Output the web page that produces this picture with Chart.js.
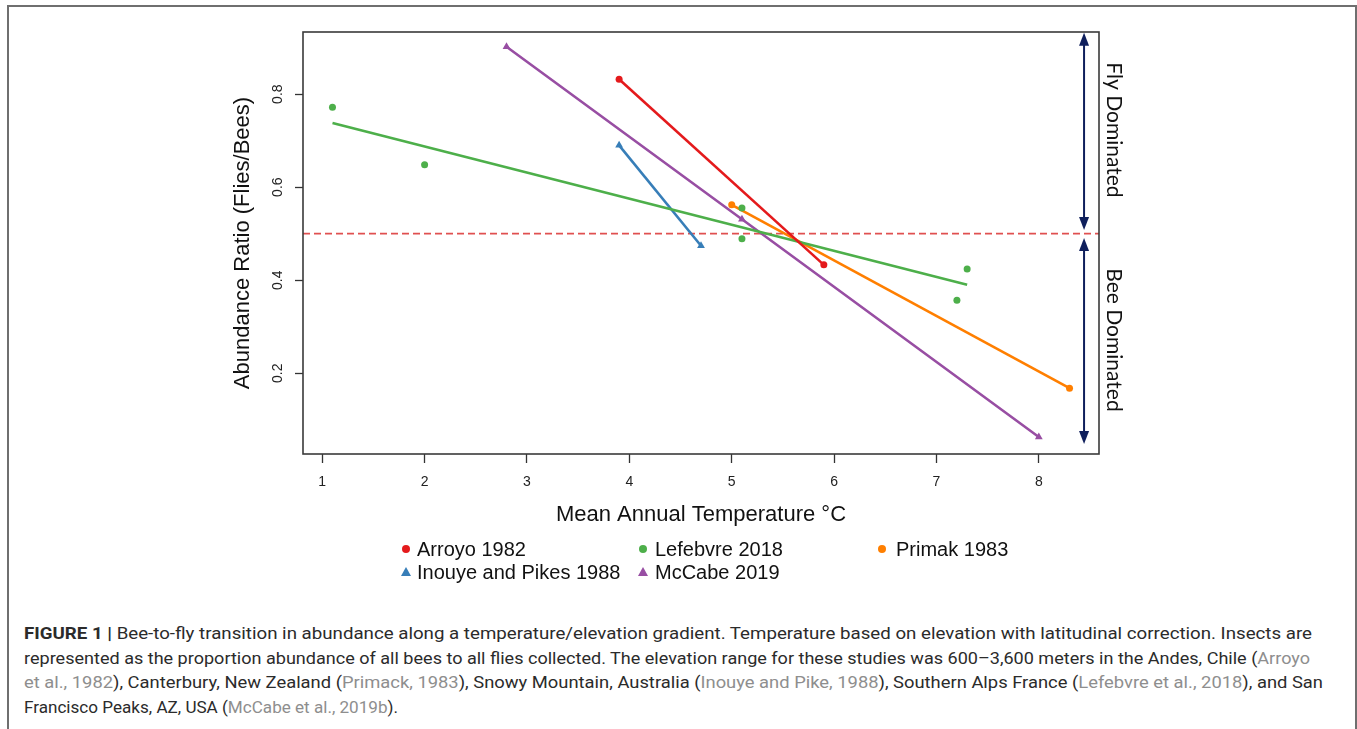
<!DOCTYPE html>
<html>
<head>
<meta charset="utf-8">
<script src="https://cdn.jsdelivr.net/npm/chart.js@4.4.1/dist/chart.umd.min.js"></script>
<style>
  html, body { margin: 0; padding: 0; background: #fff; }
  body { width: 1357px; height: 729px; position: relative; overflow: hidden; font-family: "Liberation Sans", Arial, sans-serif; }
  #marco { position: absolute; left: 7px; top: 5px; width: 1346px; height: 760px; border: 2px solid #6f6f6f; border-bottom: none; }
  #contenedor { position: absolute; left: 0; top: 0; width: 1357px; height: 600px; }
  .item { position: absolute; font-size: 20px; line-height: 22px; color: #111; white-space: nowrap; }
  .marca { position: absolute; }
  #caption { position: absolute; left: 24px; top: 621px; font-family: Roboto, "Liberation Sans", sans-serif; font-size: 17px; line-height: 24.7px; color: #2b2b2b; }
  .linea { display: block; width: max-content; white-space: nowrap; transform-origin: left center; }
  .ref { color: #8e8e8e; }
</style>
</head>
<body>
<div id="marco"></div>
<div id="contenedor"><canvas id="grafico"></canvas></div>
<div id="leyenda"></div>
<div id="caption">
  <span class="linea" data-w="1288"><b>FIGURE 1 |</b> Bee-to-fly transition in abundance along a temperature/elevation gradient. Temperature based on elevation with latitudinal correction. Insects are</span>
  <span class="linea" data-w="1286">represented as the proportion abundance of all bees to all flies collected. The elevation range for these studies was 600–3,600 meters in the Andes, Chile (<span class="ref">Arroyo</span></span>
  <span class="linea" data-w="1299"><span class="ref">et al., 1982</span>), Canterbury, New Zealand (<span class="ref">Primack, 1983</span>), Snowy Mountain, Australia (<span class="ref">Inouye and Pike, 1988</span>), Southern Alps France (<span class="ref">Lefebvre et al., 2018</span>), and San</span>
  <span class="linea" data-w="374">Francisco Peaks, AZ, USA (<span class="ref">McCabe et al., 2019b</span>).</span>
</div>
<script>
// Datos
const estudios = ["Arroyo 1982", "Lefebvre 2018", "Primak 1983", "Inouye and Pikes 1988", "McCabe 2019"];

const arroyoX = [3.9, 5.9];
const arroyoY = [0.832, 0.433];

const lefebvreX = [1.1, 2.0, 5.1, 5.1, 7.2, 7.3];
const lefebvreY = [0.772, 0.648, 0.555, 0.489, 0.357, 0.424];
// recta ajustada de Lefebvre (extremos leídos)
const lefebvreAjusteX = [1.1, 7.3];
const lefebvreAjusteY = [0.738, 0.39];

const primakX = [5.0, 8.3];
const primakY = [0.562, 0.168];

const inouyeX = [3.9, 4.7];
const inouyeY = [0.69, 0.474];

const mccabeX = [2.8, 5.1, 8.0];
const mccabeY = [0.902, 0.531, 0.063];

const umbral = 0.5;

const xTicks = [1, 2, 3, 4, 5, 6, 7, 8];
const yTicks = [0.2, 0.4, 0.6, 0.8];
const yTickLabels = ["0.2", "0.4", "0.6", "0.8"];

// colores (Set1)
const rojo = "#e41a1c";
const verde = "#4daf4a";
const naranjo = "#ff7f00";
const azul = "#377eb8";
const morado = "#984ea3";
const colores = [rojo, verde, naranjo, azul, morado];
const formas = ["circle", "circle", "circle", "triangle", "triangle"];
const azulFlecha = "#0f1f5c";

const xMin = 0.812, xMax = 8.588, yMin = 0.0264, yMax = 0.9336;

function puntos(xs, ys) {
  return xs.map((x, i) => ({ x: x, y: ys[i] }));
}

function serie(datos, color, forma, conLinea, radio) {
  return {
    data: datos,
    showLine: conLinea,
    borderColor: color,
    backgroundColor: color,
    borderWidth: 2.6,
    pointStyle: forma,
    pointRadius: radio,
    pointBorderWidth: 0,
    pointHoverRadius: radio,
  };
}

// Flechas, textos, caja y títulos de ejes
const anotaciones = {
  id: "anotaciones",
  afterDatasetsDraw(chart) {
    const { ctx, chartArea: a, scales } = chart;
    const x = scales.x, y = scales.y;
    ctx.save();
    // caja
    ctx.strokeStyle = "#3a3a3a";
    ctx.lineWidth = 1.6;
    ctx.strokeRect(a.left, a.top, a.right - a.left, a.bottom - a.top);

    // flechas dobles
    const fx = x.getPixelForValue(8.442);
    [[0.932, 0.508], [0.491, 0.048]].forEach((f) => {
      const y1 = y.getPixelForValue(f[0]);
      const y2 = y.getPixelForValue(f[1]);
      ctx.strokeStyle = azulFlecha;
      ctx.fillStyle = azulFlecha;
      ctx.lineWidth = 2;
      ctx.beginPath();
      ctx.moveTo(fx, y1 + 8);
      ctx.lineTo(fx, y2 - 8);
      ctx.stroke();
      ctx.beginPath();
      ctx.moveTo(fx, y1);
      ctx.lineTo(fx - 5, y1 + 13);
      ctx.lineTo(fx + 5, y1 + 13);
      ctx.closePath();
      ctx.fill();
      ctx.beginPath();
      ctx.moveTo(fx, y2);
      ctx.lineTo(fx - 5, y2 - 13);
      ctx.lineTo(fx + 5, y2 - 13);
      ctx.closePath();
      ctx.fill();
    });

    // textos a la derecha
    ctx.fillStyle = "#111";
    ctx.font = "21px Lato, 'Open Sans', sans-serif";
    ctx.textAlign = "center";
    ctx.textBaseline = "middle";
    [["Fly Dominated", 0.723], ["Bee Dominated", 0.2715]].forEach((t) => {
      ctx.save();
      ctx.translate(a.right + 15, y.getPixelForValue(t[1]));
      ctx.rotate(Math.PI / 2);
      ctx.fillText(t[0], 0, 0);
      ctx.restore();
    });

    // etiquetas del eje y (verticales, como en R)
    ctx.font = "14px 'Liberation Sans', Arial, sans-serif";
    ctx.fillStyle = "#222";
    yTicks.forEach((v, i) => {
      ctx.save();
      ctx.translate(a.left - 25, y.getPixelForValue(v));
      ctx.rotate(-Math.PI / 2);
      ctx.fillText(yTickLabels[i], 0, 0);
      ctx.restore();
    });

    // títulos de ejes
    ctx.font = "22px 'Liberation Sans', Arial, sans-serif";
    ctx.fillStyle = "#111";
    ctx.fillText("Mean Annual Temperature °C", (a.left + a.right) / 2, a.bottom + 61);
    ctx.save();
    ctx.translate(a.left - 60, (a.top + a.bottom) / 2);
    ctx.rotate(-Math.PI / 2);
    ctx.fillText("Abundance Ratio (Flies/Bees)", 0, 0);
    ctx.restore();

    ctx.restore();
  },
};

new Chart(document.getElementById("grafico"), {
  type: "scatter",
  data: {
    datasets: [
      serie(puntos(arroyoX, arroyoY), rojo, "circle", true, 3.5),
      serie(puntos(lefebvreX, lefebvreY), verde, "circle", false, 3.5),
      serie(puntos(lefebvreAjusteX, lefebvreAjusteY), verde, "circle", true, 0),
      serie(puntos(primakX, primakY), naranjo, "circle", true, 3.5),
      serie(puntos(inouyeX, inouyeY), azul, "triangle", true, 4.5),
      serie(puntos(mccabeX, mccabeY), morado, "triangle", true, 4.5),
      {
        data: puntos([xMin, xMax], [umbral, umbral]),
        showLine: true,
        borderColor: "#e05050",
        borderWidth: 1.8,
        borderDash: [7, 4],
        pointRadius: 0,
      },
    ],
  },
  options: {
    responsive: true,
    maintainAspectRatio: false,
    animation: false,
    events: [],
    layout: {
      autoPadding: false,
      padding: { left: 0, top: 32, right: 258, bottom: 106 },
    },
    plugins: {
      legend: { display: false },
      tooltip: { enabled: false },
    },
    scales: {
      x: {
        type: "linear",
        min: xMin,
        max: xMax,
        afterBuildTicks: (s) => { s.ticks = xTicks.map((v) => ({ value: v })); },
        afterFit: (s) => { s.height = 40; },
        border: { display: false },
        grid: { drawOnChartArea: false, drawTicks: true, tickLength: 9, tickColor: "#333", tickWidth: 1.3 },
        ticks: {
          color: "#222",
          padding: 11,
          font: { size: 14, family: "'Liberation Sans', Arial, sans-serif" },
          callback: (v) => String(v),
        },
      },
      y: {
        type: "linear",
        min: yMin,
        max: yMax,
        afterBuildTicks: (s) => { s.ticks = yTicks.map((v) => ({ value: v })); },
        afterFit: (s) => { s.width = 303; },
        border: { display: false },
        grid: { drawOnChartArea: false, drawTicks: true, tickLength: 8, tickColor: "#333", tickWidth: 1.3 },
        ticks: { display: false },
      },
    },
  },
  plugins: [anotaciones],
});

// Leyenda en dos filas y tres columnas, como en la figura
const leyenda = document.getElementById("leyenda");
const posMarca = [[406, 549], [643, 549], [882, 549], [406, 572], [643, 572]];
const posTexto = [417, 655, 896, 417, 655];
estudios.forEach((nombre, i) => {
  const m = document.createElement("div");
  m.className = "marca";
  const [mx, my] = posMarca[i];
  if (formas[i] === "circle") {
    m.style.cssText = `left:${mx - 4}px;top:${my - 4}px;width:8px;height:8px;border-radius:50%;background:${colores[i]}`;
  } else {
    m.style.cssText = `left:${mx - 5}px;top:${my - 5}px;width:10px;height:9px;background:${colores[i]};clip-path:polygon(50% 0,100% 100%,0 100%)`;
  }
  leyenda.appendChild(m);
  const t = document.createElement("div");
  t.className = "item";
  t.textContent = nombre;
  t.style.left = posTexto[i] + "px";
  t.style.top = (my - 11) + "px";
  leyenda.appendChild(t);
});

// Ajusto el ancho de cada línea del pie al de la figura original
document.querySelectorAll(".linea").forEach((l) => {
  const w = l.getBoundingClientRect().width;
  l.style.transform = `scaleX(${Number(l.dataset.w) / w})`;
});
</script>
</body>
</html>
